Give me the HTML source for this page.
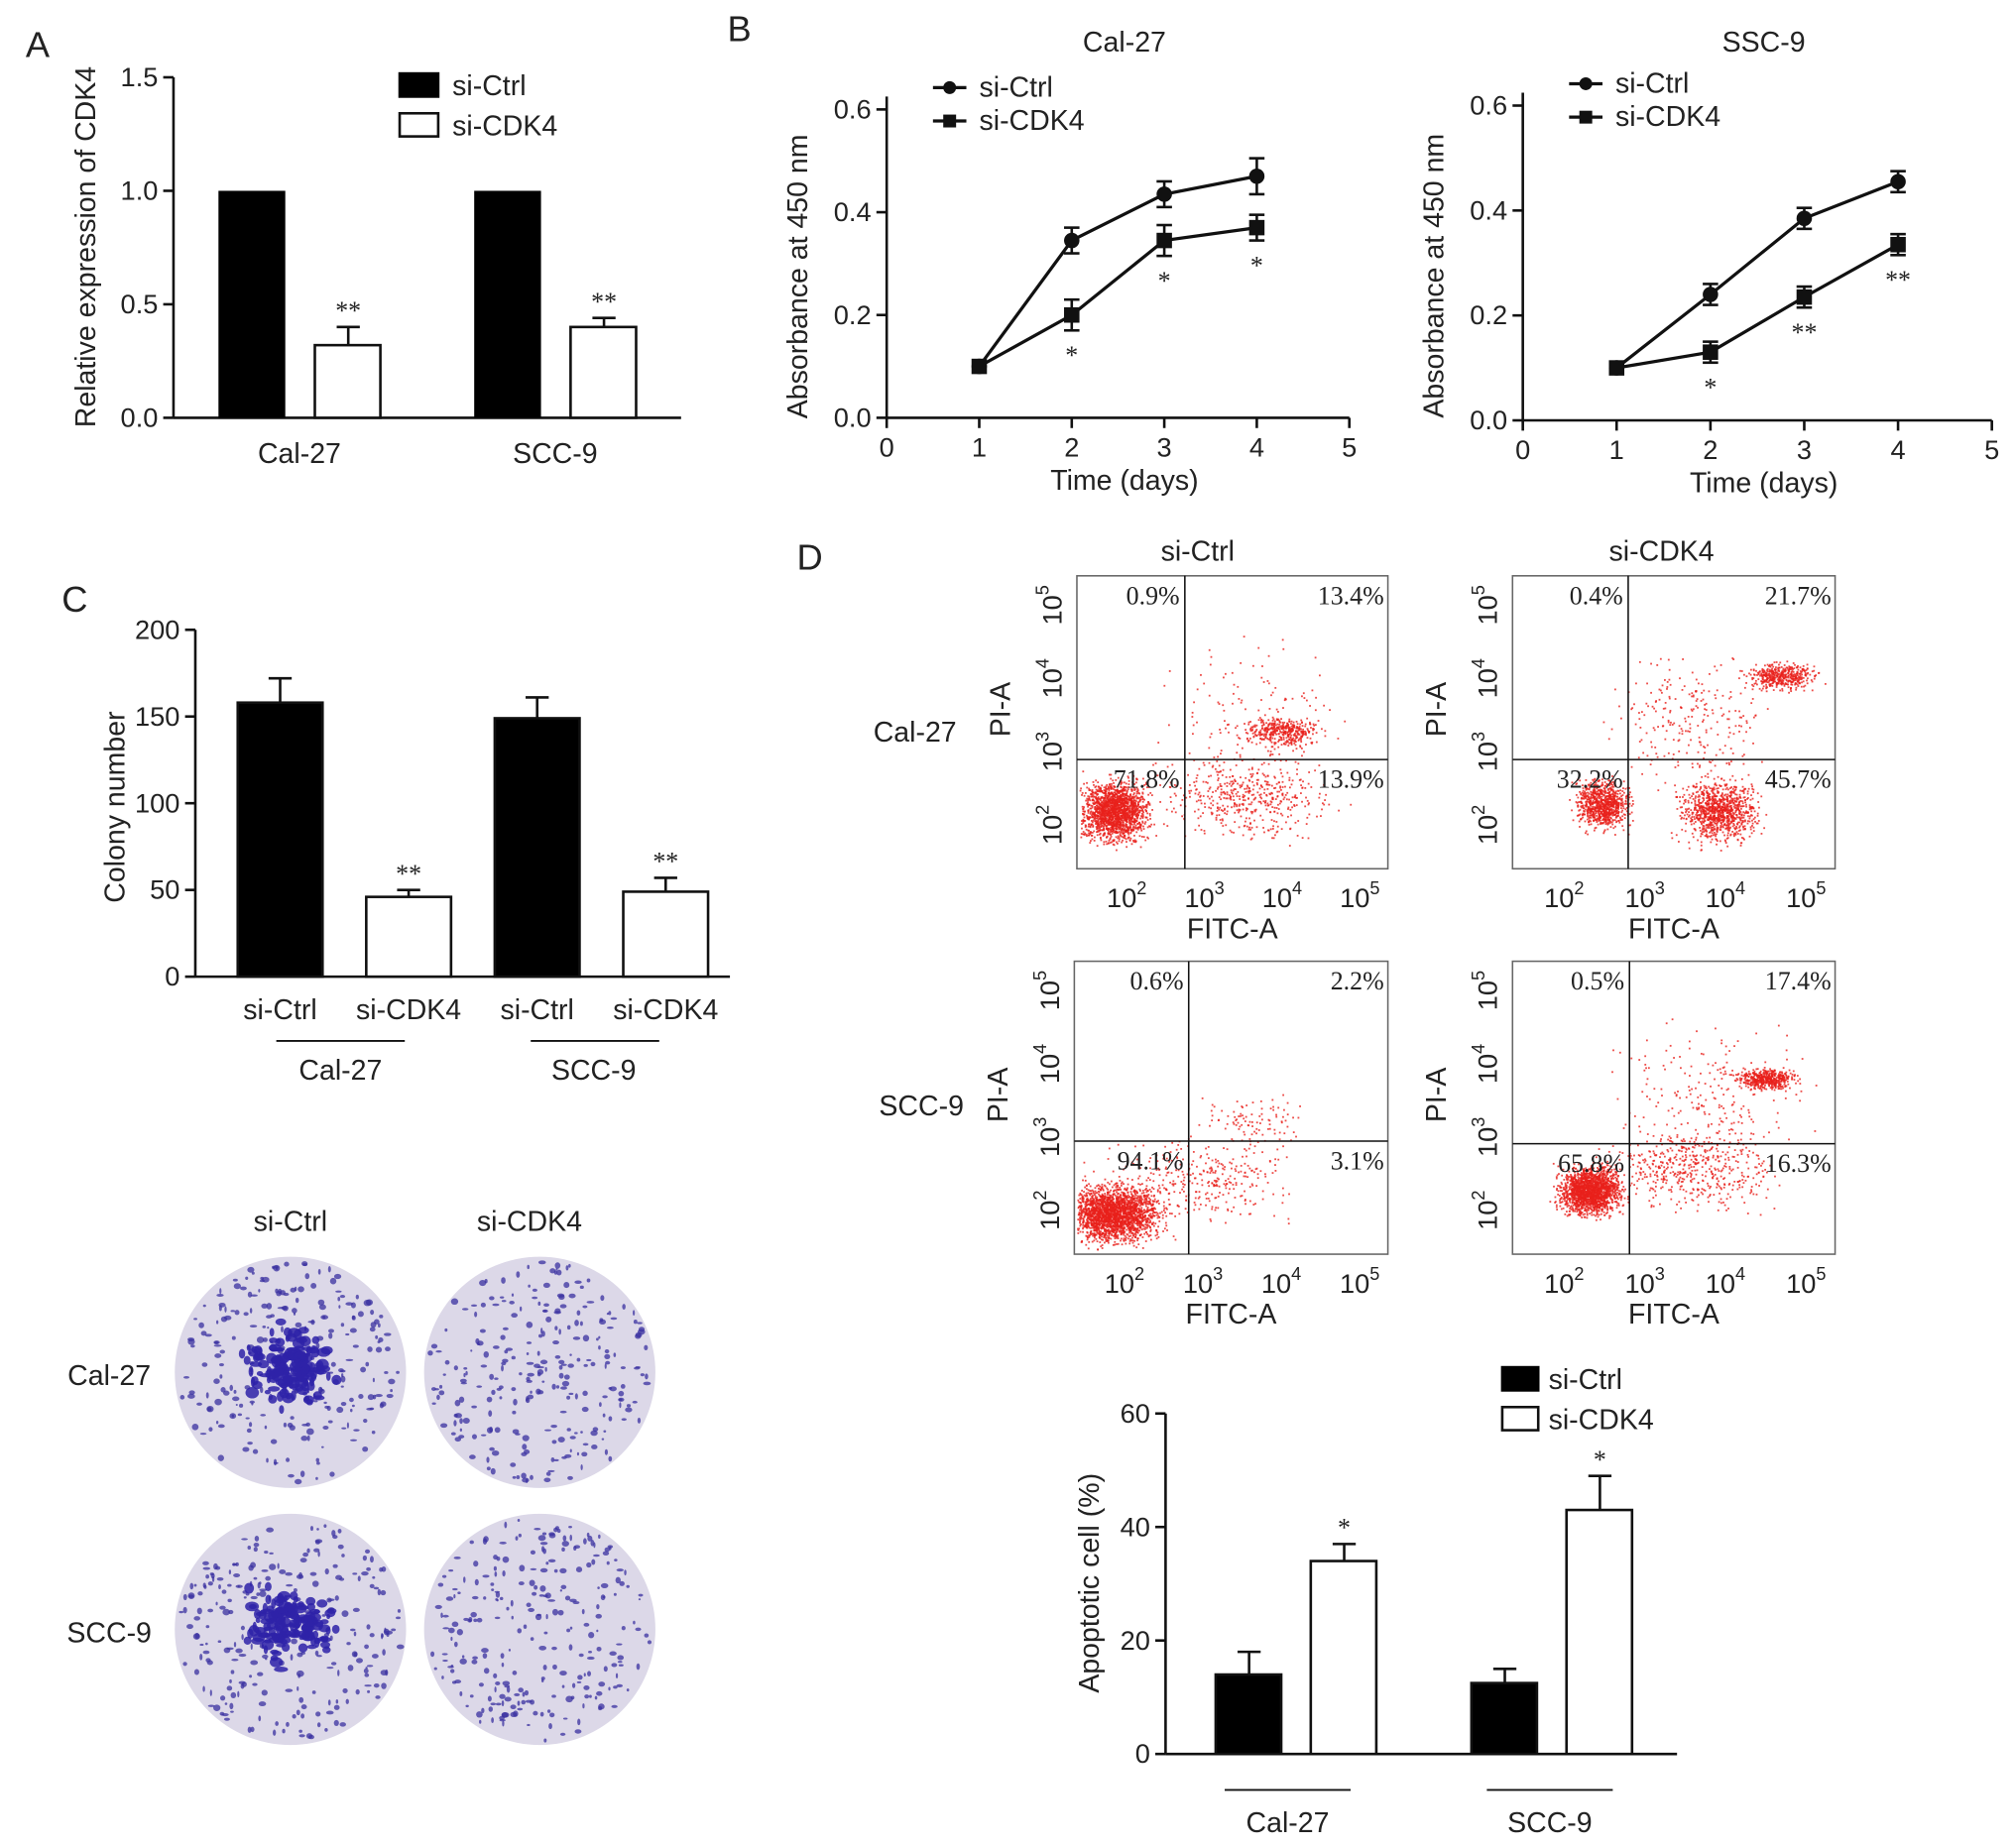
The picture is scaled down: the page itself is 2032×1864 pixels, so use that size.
<!DOCTYPE html>
<html><head><meta charset="utf-8"><style>
html,body{margin:0;padding:0;background:#fff}
svg{display:block}
text{font-family:"Liberation Sans",sans-serif;fill:#222}
.ser{font-family:"Liberation Serif",serif}
</style></head><body>
<svg id="s" width="2032" height="1864" viewBox="0 0 1568 1438" xmlns="http://www.w3.org/2000/svg">
<g id="g"></g>
</svg>
<script>
// ---- data ----
const aCats=["Cal-27","SCC-9"];
const aCtrl=[1.0,1.0];
const aCdk4=[0.32,0.40];
const aCdk4Err=[0.08,0.04];
const bDays=[1,2,3,4];
const bCalCtrl=[0.10,0.345,0.435,0.47];
const bCalCtrlErr=[0.005,0.025,0.025,0.035];
const bCalCdk4=[0.10,0.20,0.345,0.37];
const bCalCdk4Err=[0.005,0.03,0.03,0.025];
const bCalStars=["","*","*","*"];
const bSccCtrl=[0.10,0.24,0.385,0.455];
const bSccCtrlErr=[0.005,0.02,0.02,0.02];
const bSccCdk4=[0.10,0.13,0.235,0.335];
const bSccCdk4Err=[0.005,0.02,0.02,0.02];
const bSccStars=["","*","**","**"];
const cVals=[158,46,149,49];
const cErr=[14,4,12,8];
const cLabels=["si-Ctrl","si-CDK4","si-Ctrl","si-CDK4"];
const dVals=[14,34,12.5,43];
const dErr=[4,3,2.5,6];
const flowLabels=[["0.9%","13.4%","71.8%","13.9%"],["0.4%","21.7%","32.2%","45.7%"],["0.6%","2.2%","94.1%","3.1%"],["0.5%","17.4%","65.8%","16.3%"]];

const NS="http://www.w3.org/2000/svg";
const G=document.getElementById('g');
function el(t,a,txt,parent){const e=document.createElementNS(NS,t);for(const k in a)e.setAttribute(k,a[k]);if(txt!==undefined)e.textContent=txt;(parent||G).appendChild(e);return e;}
function line(x1,y1,x2,y2,w,name){const e=el('line',{x1,y1,x2,y2,stroke:'#111','stroke-width':w||2});

return e;}
function txt(x,y,s,size,name,anchor,extra){const e=el('text',Object.assign({x,y,'font-size':size,'text-anchor':anchor||'middle'},extra||{}),s);

return e;}
function errbar(x,y0,y1,name){line(x,y0,x,y1,2,name);line(x-9,y1,x+9,y1,2,name);}

[["A",20,44],["B",566,32],["C",48,476],["D",620,443]].forEach(p=>txt(p[1],p[2],p[0],28,'panel-label-'+p[0].toLowerCase(),'start'));

// ---- Panel A ----
(function(){
 const x0=135,yb=325,yt=60,ymax=1.5;const Y=v=>yb-(yb-yt)*v/ymax;
 line(x0,yt,x0,yb);line(x0,yb,530,yb);
 [0,0.5,1.0,1.5].forEach(v=>{line(x0-8,Y(v),x0,Y(v));txt(x0-12,Y(v)+7,v.toFixed(1),21,'y-tick-label','end');});
 const cx=[233,432];
 aCats.forEach((c,i)=>{
  const b1=el('rect',{x:cx[i]-63,y:Y(aCtrl[i]),width:52,height:yb-Y(aCtrl[i]),fill:'#000'});
  
  errbar(cx[i]+38,Y(aCdk4[i]),Y(aCdk4[i]+aCdk4Err[i]),'error-bar');
  const b2=el('rect',{x:cx[i]+12,y:Y(aCdk4[i]),width:51,height:yb-Y(aCdk4[i]),fill:'#fff',stroke:'#111','stroke-width':2});
  
  txt(cx[i]+38,Y(aCdk4[i]+aCdk4Err[i])-6,'**',20,'significance-star','middle',{class:'ser'});
  txt(cx[i],360,c,22,'x-tick-label');
 });
 txt(0,0,'Relative expression of CDK4',22,'y-axis-title','middle',{transform:'translate(74,192) rotate(-90)'});
 const l1=el('rect',{x:310,y:56,width:32,height:20,fill:'#000'});
 txt(352,74,'si-Ctrl',22,'legend-entry','start');
 const l2=el('rect',{x:311,y:88,width:30,height:18,fill:'#fff',stroke:'#111','stroke-width':2});
 txt(352,105,'si-CDK4',22,'legend-entry','start');
})();

// ---- Panel B ----
function lineChart(x0,x1,yb,yt,title,ctrl,ce,cdk,ke,stars,id){
 const X=d=>x0+(x1-x0)*d/5, Y=v=>yb-(yb-yt)*v/0.6;
 line(x0,yt-10,x0,yb);line(x0,yb,x1,yb);
 [0,1,2,3,4,5].forEach(d=>{line(X(d),yb,X(d),yb+8);txt(X(d),yb+30,String(d),21,'x-tick-label');});
 [0,0.2,0.4,0.6].forEach(v=>{line(x0-8,Y(v),x0,Y(v));txt(x0-12,Y(v)+7,v.toFixed(1),21,'y-tick-label','end');});
 txt((x0+x1)/2+5,yb+56,'Time (days)',22,'x-axis-title');
 txt(0,0,'Absorbance at 450 nm',22,'y-axis-title','middle',{transform:`translate(${x0-62},${(yb+yt)/2+10}) rotate(-90)`});
 txt((x0+x1)/2+5,40,title,22,'chart-title');
 [[ctrl,ce,'circle','ctrl'],[cdk,ke,'square','cdk4']].forEach(([vals,err,shape,nm])=>{
  const pl=el('polyline',{points:bDays.map((d,i)=>X(d)+','+Y(vals[i])).join(' '),fill:'none',stroke:'#111','stroke-width':2.5});
  
  bDays.forEach((d,i)=>{
   if(err[i]>0.006){line(X(d),Y(vals[i]-err[i]),X(d),Y(vals[i]+err[i]),2,'error-bar');line(X(d)-6,Y(vals[i]+err[i]),X(d)+6,Y(vals[i]+err[i]),2,'error-bar');line(X(d)-6,Y(vals[i]-err[i]),X(d)+6,Y(vals[i]-err[i]),2,'error-bar');}
   const m=shape==='circle'?el('circle',{cx:X(d),cy:Y(vals[i]),r:6,fill:'#111'}):el('rect',{x:X(d)-6,y:Y(vals[i])-6,width:12,height:12,fill:'#111'});
   
  });
 });
 bDays.forEach((d,i)=>{if(stars[i])txt(X(d),Y(cdk[i]-ke[i])+26,stars[i],20,'significance-star','middle',{class:'ser'});});
 const lx=x0+36;
 line(lx,yt-17,lx+26,yt-17,2.5,'legend-line');el('circle',{cx:lx+13,cy:yt-17,r:5,fill:'#111'});
 txt(lx+36,yt-10,'si-Ctrl',22,'legend-entry','start');
 line(lx,yt+9,lx+26,yt+9,2.5,'legend-line');el('rect',{x:lx+8,y:yt+4,width:10,height:10,fill:'#111'});
 txt(lx+36,yt+16,'si-CDK4',22,'legend-entry','start');
}
lineChart(690,1050,325,85,'Cal-27',bCalCtrl,bCalCtrlErr,bCalCdk4,bCalCdk4Err,bCalStars,'cal');
lineChart(1185,1550,327,82,'SSC-9',bSccCtrl,bSccCtrlErr,bSccCdk4,bSccCdk4Err,bSccStars,'scc');

// ---- Panel C bars ----
(function(){
 const x0=152,yb=760,yt=490;const Y=v=>yb-(yb-yt)*v/200;
 line(x0,yt,x0,yb);line(x0,yb,568,yb);
 [0,50,100,150,200].forEach(v=>{line(x0-8,Y(v),x0,Y(v));txt(x0-12,Y(v)+7,String(v),21,'y-tick-label','end');});
 const cx=[218,318,418,518];
 cVals.forEach((v,i)=>{
  errbar(cx[i],Y(v),Y(v+cErr[i]),'error-bar');
  const b=el('rect',{x:cx[i]-33,y:Y(v),width:66,height:yb-Y(v),fill:i%2?'#fff':'#000',stroke:'#111','stroke-width':2});
  
  if(i%2)txt(cx[i],Y(v+cErr[i])-6,'**',20,'significance-star','middle',{class:'ser'});
  txt(cx[i],793,cLabels[i],22,'x-tick-label');
 });
 line(215,810,315,810,1.5,'group-line');line(413,810,513,810,1.5,'group-line');
 txt(265,840,'Cal-27',22,'group-label');txt(462,840,'SCC-9',22,'group-label');
 txt(0,0,'Colony number',22,'y-axis-title','middle',{transform:'translate(97,628) rotate(-90)'});
})();

let seed=7;function rnd(){seed=(seed*16807)%2147483647;return seed/2147483647;}
function gauss(){return (rnd()+rnd()+rnd()-1.5)/1.5;}

// ---- colony images ----
txt(226,958,'si-Ctrl',22,'column-label');txt(412,958,'si-CDK4',22,'column-label');
txt(85,1078,'Cal-27',22,'row-label');txt(85,1278,'SCC-9',22,'row-label');
[[226,1068,1],[420,1068,0],[226,1268,1],[420,1268,0]].forEach(([cx,cy,dense],k)=>{
 const g=el('g',{});
 el('circle',{cx,cy,r:90,fill:'#dcd8e8'},undefined,g);
 for(let i=0;i<260;i++){const a=rnd()*6.283,r=87*Math.sqrt(rnd());el('ellipse',{cx:cx+r*Math.cos(a),cy:cy+r*Math.sin(a),rx:0.8+rnd()*2.2,ry:0.8+rnd()*1.8,fill:'#3a30a0',opacity:0.75},undefined,g);}
 if(dense){for(let i=0;i<160;i++){el('ellipse',{cx:cx+gauss()*45,cy:cy+gauss()*40-5,rx:1.5+rnd()*4,ry:1.5+rnd()*3,fill:'#2e22a8',opacity:0.85},undefined,g);}}
});

// ---- flow plots: clouds [fx from left, fy from bottom, n, sx, sy] ----
txt(932,436,'si-Ctrl',22,'column-label');txt(1293,436,'si-CDK4',22,'column-label');
txt(712,577,'Cal-27',22,'row-label');txt(717,868,'SCC-9',22,'row-label');
const plots=[[838,1080,448,676,922,591,[[0.12,0.2,1800,0.09,0.09],[0.66,0.47,400,0.1,0.04],[0.55,0.25,500,0.22,0.12],[0.55,0.55,120,0.25,0.2]]],
 [1177,1428,448,676,1267,591,[[0.28,0.22,900,0.07,0.07],[0.64,0.2,1000,0.1,0.09],[0.83,0.66,450,0.09,0.04],[0.55,0.5,250,0.2,0.2]]],
 [836,1080,748,976,925,888,[[0.12,0.14,2400,0.13,0.08],[0.55,0.45,100,0.15,0.08],[0.4,0.25,350,0.25,0.12]]],
 [1177,1428,748,976,1268,890,[[0.24,0.22,1800,0.08,0.07],[0.78,0.6,500,0.08,0.03],[0.55,0.3,500,0.22,0.12],[0.6,0.55,200,0.25,0.2]]]];
plots.forEach((p,k)=>{
 const [x0,x1,y0,y1,qx,qy,clouds]=p;const w=x1-x0,h=y1-y0;
 const g=el('g',{});
 clouds.forEach(([fx,fy,n,sx,sy])=>{for(let i=0;i<n;i++){const x=x0+w*(fx+gauss()*sx*1.6),y=y1-h*(fy+gauss()*sy*1.6);if(x>x0+2&&x<x1-2&&y>y0+2&&y<y1-2)el('rect',{x,y,width:1.4,height:1.4,fill:'#e8201c',opacity:0.8},undefined,g);}});
 el('rect',{x:x0,y:y0,width:w,height:h,fill:'none',stroke:'#666','stroke-width':1.2},undefined,g);
 line(qx,y0,qx,y1,1.2,'quadrant-line');line(x0,qy,x1,qy,1.2,'quadrant-line');
 const L=flowLabels[k];
 txt(qx-4,y0+22,L[0],20,'quadrant-percent','end',{class:'ser'});txt(x1-3,y0+22,L[1],20,'quadrant-percent','end',{class:'ser'});
 txt(qx-4,qy+22,L[2],20,'quadrant-percent','end',{class:'ser'});txt(x1-3,qy+22,L[3],20,'quadrant-percent','end',{class:'ser'});
 ['2','3','4','5'].forEach((e,i)=>{const xx=x0+w*(0.16+i*0.25);const t=txt(xx,y1+30,'10',21,'x-tick-label');el('tspan',{dy:-10,'font-size':14},e,t);
  const yy=y1-h*(0.15+i*0.25);const t2=txt(0,0,'10',21,'y-tick-label','middle',{transform:`translate(${x0-12},${yy}) rotate(-90)`});el('tspan',{dy:-10,'font-size':14},e,t2);});
 txt((x0+x1)/2,y1+54,'FITC-A',22,'x-axis-title');
 txt(0,0,'PI-A',22,'y-axis-title','middle',{transform:`translate(${x0-52},${y0+h*0.5-10}) rotate(-90)`});
});

// ---- Panel D bars ----
(function(){
 const x0=907,yb=1365,yt=1100;const Y=v=>yb-(yb-yt)*v/60;
 line(x0,yt,x0,yb);line(x0,yb,1305,yb);
 [0,20,40,60].forEach(v=>{line(x0-8,Y(v),x0,Y(v));txt(x0-12,Y(v)+7,String(v),21,'y-tick-label','end');});
 const cx=[972,1046,1171,1245];
 dVals.forEach((v,i)=>{
  errbar(cx[i],Y(v),Y(v+dErr[i]),'error-bar');
  const b=el('rect',{x:cx[i]-26,y:Y(v),width:51,height:yb-Y(v),fill:i%2?'#fff':'#000',stroke:'#111','stroke-width':2});
  
  if(i%2)txt(cx[i],Y(v+dErr[i])-6,'*',20,'significance-star','middle',{class:'ser'});
 });
 line(953,1393,1051,1393,1.5,'group-line');line(1157,1393,1255,1393,1.5,'group-line');
 txt(1002,1426,'Cal-27',22,'group-label');txt(1206,1426,'SCC-9',22,'group-label');
 txt(0,0,'Apoptotic cell (%)',22,'y-axis-title','middle',{transform:'translate(855,1232) rotate(-90)'});
 const l1=el('rect',{x:1168,y:1063,width:30,height:20,fill:'#000'});
 txt(1205,1081,'si-Ctrl',22,'legend-entry','start');
 const l2=el('rect',{x:1169,y:1095,width:28,height:18,fill:'#fff',stroke:'#111','stroke-width':2});
 txt(1205,1112,'si-CDK4',22,'legend-entry','start');
})();
</script>
</body></html>
